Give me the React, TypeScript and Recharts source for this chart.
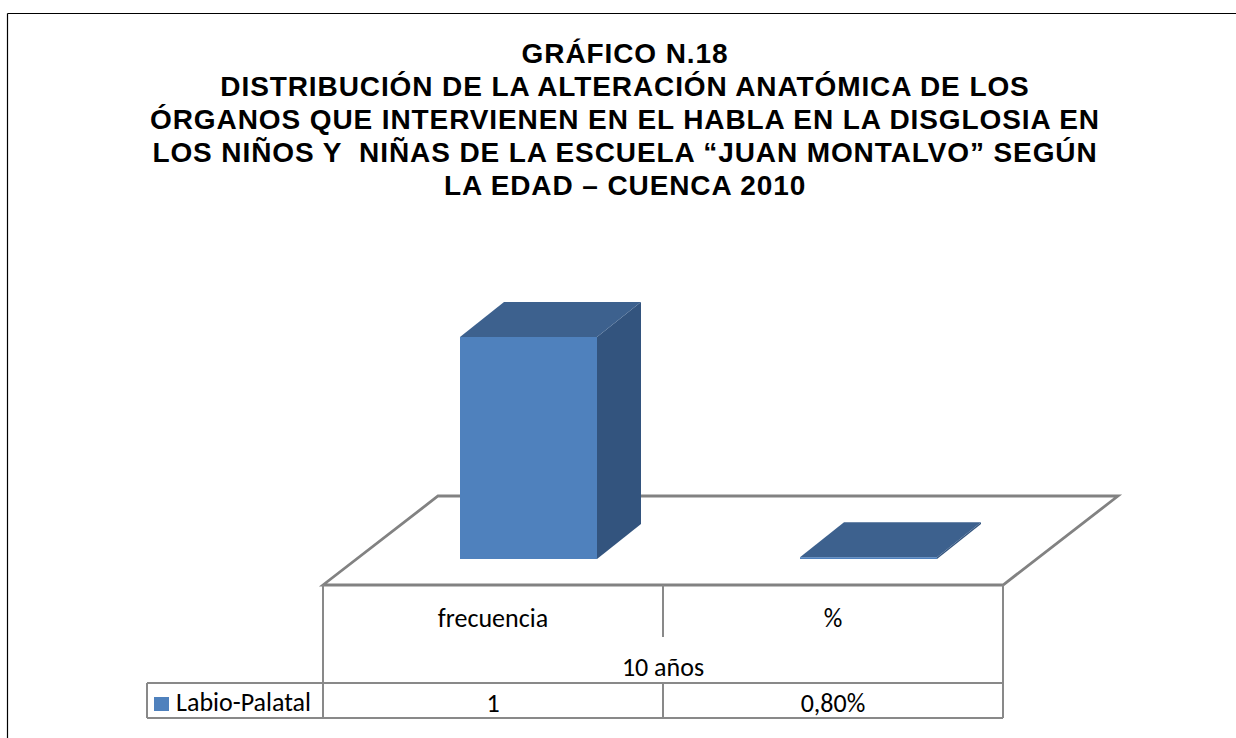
import { BarChart, Bar, XAxis, YAxis } from "recharts";

const CATEGORIES = ["frecuencia", "%"];
const VALUES = [1, 0.008];
const VALUE_LABELS = ["1", "0,80%"];
const GROUP_LABEL = "10 años";
const SERIES_NAME = "Labio-Palatal";
const TITLE_LINES = [
  "GRÁFICO N.18",
  "DISTRIBUCIÓN DE LA ALTERACIÓN ANATÓMICA DE LOS",
  "ÓRGANOS QUE INTERVIENEN EN EL HABLA EN LA DISGLOSIA EN",
  "LOS NIÑOS Y  NIÑAS DE LA ESCUELA “JUAN MONTALVO” SEGÚN",
  "LA EDAD – CUENCA 2010",
];

const data = CATEGORIES.map((name, i) => ({ name, value: VALUES[i], label: VALUE_LABELS[i] }));

const W = 1236;
const H = 738;
const LEFT = 323;
const RIGHT = 1003;
const FLOOR_Y = 585;
const FLOOR_BACK_Y = 496;
const FLOOR_DX = 115;
const GRID = "#898989";
const TABLE_FONT = "Carlito, Calibri, Lato, sans-serif";

const FRONT = "#4F81BD";
const TOP = "#3D618E";
const SIDE = "#33547E";

// shift of the bar base inside the floor, and the bar's own depth
const SX = 35;
const SY = -26;
const DX = 44;
const DY = -35;

function Box3D(props: any) {
  const { x, y, width, height } = props;
  const fx = x + SX;
  const fy = y + SY;
  const top = `${fx},${fy} ${fx + DX},${fy + DY} ${fx + width + DX},${fy + DY} ${fx + width},${fy}`;
  const side = `${fx + width},${fy} ${fx + width + DX},${fy + DY} ${fx + width + DX},${fy + height + DY} ${fx + width},${fy + height}`;
  return (
    <g>
      <polygon points={side} fill={SIDE} />
      <polygon points={top} fill={TOP} />
      <rect x={fx} y={fy} width={width} height={Math.max(height, 1.5)} fill={FRONT} />
    </g>
  );
}

function Floor() {
  const pts = `${LEFT},${FLOOR_Y} ${RIGHT},${FLOOR_Y} ${RIGHT + FLOOR_DX},${FLOOR_BACK_Y} ${LEFT + FLOOR_DX},${FLOOR_BACK_Y}`;
  return <polygon points={pts} fill="#fff" stroke="#828282" strokeWidth={2.8} strokeLinejoin="miter" />;
}

function TableTick(props: any) {
  const { x, y, index } = props;
  return (
    <g fontFamily={TABLE_FONT} fontSize={26} fill="#000" textAnchor="middle">
      <text x={x} y={y + 34}>{CATEGORIES[index]}</text>
      <text x={x} y={y + 119}>{VALUE_LABELS[index]}</text>
    </g>
  );
}

function TableGrid() {
  const mid = (LEFT + RIGHT) / 2;
  return (
    <g>
      <g stroke={GRID} strokeWidth={2} fill="none">
        <line x1={LEFT} y1={FLOOR_Y} x2={LEFT} y2={718} />
        <line x1={RIGHT} y1={FLOOR_Y} x2={RIGHT} y2={718} />
        <line x1={mid} y1={FLOOR_Y} x2={mid} y2={637} />
        <line x1={mid} y1={683} x2={mid} y2={718} />
        <line x1={147} y1={683} x2={RIGHT} y2={683} />
        <line x1={147} y1={718} x2={RIGHT} y2={718} />
        <line x1={147} y1={683} x2={147} y2={718} />
      </g>
      <text x={mid} y={676} textAnchor="middle" fontFamily={TABLE_FONT} fontSize={26}>{GROUP_LABEL}</text>
      <rect x={154} y={697} width={15} height={14} fill={FRONT} />
      <text x={176} y={711} fontFamily={TABLE_FONT} fontSize={26}>{SERIES_NAME}</text>
    </g>
  );
}

function Title() {
  return (
    <g fontFamily="'Liberation Sans', Arial, sans-serif" fontWeight="bold" fontSize={28} textAnchor="middle">
      {TITLE_LINES.map((t, i) => (
        <text key={i} x={625} y={63 + i * 33} letterSpacing={0.9} style={{ whiteSpace: "pre" }}>{t}</text>
      ))}
    </g>
  );
}

export default function App() {
  return (
    <div style={{ position: "absolute", left: 0, top: 0, width: W, height: H, background: "#fff" }}>
      <BarChart
        width={W}
        height={H}
        data={data}
        margin={{ top: 363, right: W - RIGHT, bottom: H - FLOOR_Y - 30, left: LEFT }}
      >
        <Floor />
        <XAxis dataKey="name" height={30} axisLine={false} tickLine={false} interval={0} tick={<TableTick />} />
        <YAxis hide domain={[0, 1]} />
        <Bar dataKey="value" name={SERIES_NAME} barSize={137} shape={<Box3D />} isAnimationActive={false} />
        <TableGrid />
        <Title />
        <line x1={7.5} y1={13.5} x2={W} y2={13.5} stroke="#000" strokeWidth={1.2} />
        <line x1={7.5} y1={13.5} x2={7.5} y2={H} stroke="#000" strokeWidth={1.2} />
      </BarChart>
    </div>
  );
}
